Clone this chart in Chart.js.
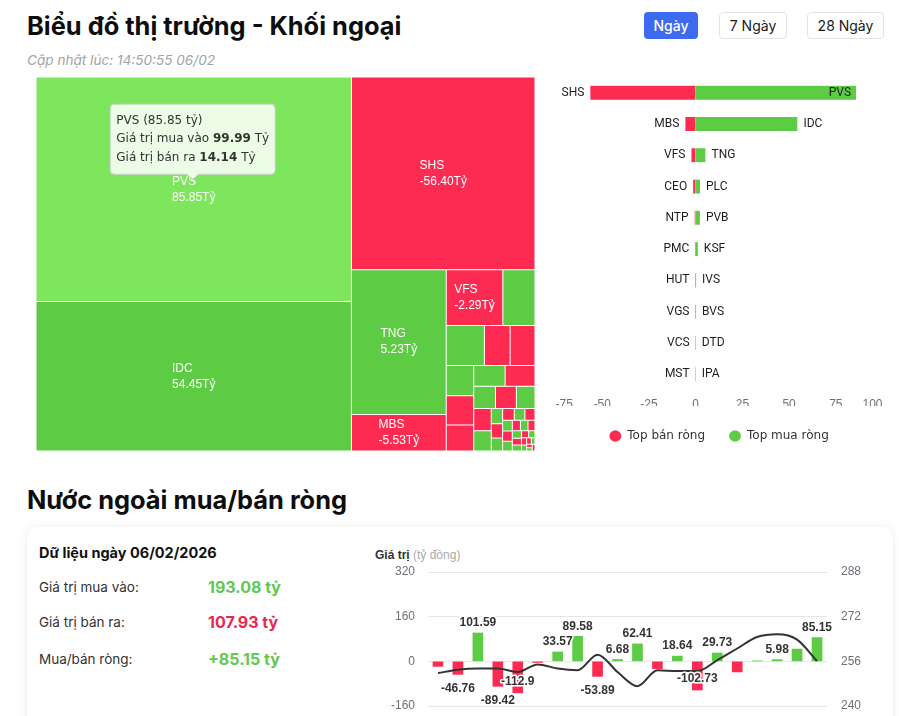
<!DOCTYPE html>
<html lang="vi">
<head>
<meta charset="utf-8">
<title>Biểu đồ thị trường - Khối ngoại</title>
<script src="https://cdn.jsdelivr.net/npm/chart.js@4.4.1/dist/chart.umd.min.js"></script>
<style>
  html, body { margin:0; padding:0; background:#fff; }
  body { width:899px; height:716px; overflow:hidden; position:relative; font-family: Inter, "Noto Sans", sans-serif; color:#111; }
  .abs { position:absolute; }
  .title { left:27px; margin:0; font-size:25.4px; font-weight:700; line-height:32px; color:#0d0d0d; white-space:nowrap; }
  .sub { left:27px; top:51px; font-size:13.6px; font-style:italic; color:#a3a3a3; line-height:18px; white-space:nowrap; }
  .btn { top:12px; height:27px; line-height:27px; font-size:14px; text-align:center; border-radius:4px; box-sizing:border-box; }
  .btn.on { background:#3d6aee; color:#fff; font-weight:500; }
  .btn.off { background:#fff; color:#1a1a1a; border:1px solid #e3e3e3; line-height:25px; }
  .card { left:27px; top:527px; width:866px; height:240px; border-radius:10px; background:#fff; box-shadow:0 0 10px rgba(0,0,0,0.08); }
  .lbl { left:39px; font-size:13.5px; color:#333; line-height:16px; white-space:nowrap; }
  .val { left:208px; font-size:16px; font-weight:700; line-height:20px; white-space:nowrap; }
  .axt { left:375px; top:547px; font-family:"Liberation Sans", Arial, sans-serif; font-size:12px; line-height:16px; white-space:nowrap; }
</style>
</head>
<body>
<div class="abs title" style="top:10px">Biểu đồ thị trường - Khối ngoại</div>
<div class="abs sub">Cập nhật lúc: 14:50:55 06/02</div>
<div class="abs btn on" style="left:644px;width:54px">Ngày</div>
<div class="abs btn off" style="left:719px;width:68px">7 Ngày</div>
<div class="abs btn off" style="left:807px;width:77px">28 Ngày</div>

<div class="abs" style="left:36px;top:77px;width:499px;height:374px"><canvas id="tm"></canvas></div>
<div class="abs" style="left:545px;top:77px;width:350px;height:375px"><canvas id="hb"></canvas></div>

<div class="abs title" style="top:484px">Nước ngoài mua/bán ròng</div>
<div class="abs card"></div>
<div class="abs lbl" style="top:545px;font-weight:700;color:#111;font-size:14.5px">Dữ liệu ngày 06/02/2026</div>
<div class="abs lbl" style="top:579px">Giá trị mua vào:</div>
<div class="abs val" style="top:577px;color:#62c850">193.08 tỷ</div>
<div class="abs lbl" style="top:614px">Giá trị bán ra:</div>
<div class="abs val" style="top:612px;color:#e8294d">107.93 tỷ</div>
<div class="abs lbl" style="top:651px">Mua/bán ròng:</div>
<div class="abs val" style="top:649px;color:#62c850">+85.15 tỷ</div>
<div class="abs axt"><b style="color:#333">Giá trị</b> <span style="color:#aaa">(tỷ đồng)</span></div>
<div class="abs" style="left:360px;top:540px;width:533px;height:200px"><canvas id="flow"></canvas></div>

<script>
// ================= DATA =================
// Treemap: foreign buy / sell value per stock (tỷ đồng)
const tmNames = ['PVS','IDC','SHS','TNG','MBS','VFS','PLC','PVB','CEO','NTP','KSF','PMC','HUT','IVS','VGS','BVS','VCS','DTD','MST','IPA','L14','PVI','NVB','TVD','DL1','HLD','PVC','DHT','BAB','SLS','TIG','VC3','API','AMV','HHC','LAS','SCG','PSD','THD','DTK','VNR','EID','TMB','TVC'];
const tmBuy  = [99.99,65.23,0.30,13.67,0.03,1.41,2.60,2.35,0.15,0.50,1.25,0.55,0.50,0.60,0.44,0.45,0.35,0.36,0.30,0.30,0.15,0.12,0.13,0.10,0.11,0.09,0.09,0.07,0.08,0.06,0.07,0.05,0.06,0.04,0.05,0.03,0.04,0.02,0.03,0.02,0.03,0.01,0.02,0.01];
const tmSell = [14.14,10.78,56.70,8.44,5.56,3.70,0.30,0.10,1.50,1.10,0.10,0.75,0.65,0.45,0.56,0.33,0.40,0.31,0.33,0.27,0.13,0.14,0.11,0.12,0.09,0.10,0.08,0.09,0.07,0.08,0.06,0.07,0.05,0.06,0.04,0.05,0.03,0.04,0.02,0.03,0.01,0.02,0.01,0.02];
const hoverName = 'PVS';

// Top net sell / net buy
const sellNames  = ['SHS','MBS','VFS','CEO','NTP','PMC','HUT','VGS','VCS','MST'];
const sellValues = [-56.40,-5.53,-2.29,-1.35,-0.60,-0.20,-0.15,-0.12,-0.05,-0.03];
const buyNames   = ['PVS','IDC','TNG','PLC','PVB','KSF','IVS','BVS','DTD','IPA'];
const buyValues  = [85.85,54.45,5.23,2.30,2.25,1.15,0.15,0.12,0.05,0.03];
const hbarMin = -75, hbarMax = 100, hbarStep = 25;

// Net flow by day + index line
const flowDates = ['12/01','13/01','14/01','15/01','16/01','19/01','20/01','21/01','22/01','23/01','26/01','27/01','28/01','29/01','30/01','02/02','03/02','04/02','05/02','06/02'];
const flowNet   = [-18,-46.76,101.59,-89.42,-112.9,-4,33.57,89.58,-53.89,6.68,62.41,-26,18.64,-102.73,29.73,-38,1.5,5.98,44,85.15];
const flowIndex = [251.8,253.0,253.4,253.4,252.2,254.9,253.4,252.8,258.4,252.2,247.1,252.8,252.5,252.5,256.4,260.6,264.7,265.7,263.8,256.1];
const flowHiddenLabels = [0,5,11,15,16,18];

// ================= STYLE =================
const RED = '#fd2b52', GREEN = '#5dcc44', GREEN_HOVER = '#7de65d';
Chart.defaults.animation = false;
Chart.defaults.font.family = '"Liberation Sans", Arial, sans-serif';

const tmTotal = tmBuy.map((b, i) => b + tmSell[i]);
const tmNet = tmBuy.map((b, i) => b - tmSell[i]);

// ================= TREEMAP CONTROLLER =================
function squarify(sizes, x, y, w, h) {
  const total = sizes.reduce((a, b) => a + b, 0);
  const k = (w * h) / total;
  const items = sizes.map((s, i) => ({ i, a: s * k })).sort((p, q) => q.a - p.a);
  const out = new Array(sizes.length);
  const RELAX = 1.1;
  const worst = (row, sum, len) => {
    const t = sum / len; let m = 0;
    for (const it of row) { const l = it.a / t; m = Math.max(m, t / l, l / t); }
    return m;
  };
  let idx = 0;
  while (idx < items.length) {
    const len = Math.min(w, h);
    const row = [items[idx]]; let sum = items[idx].a; let cur = worst(row, sum, len); let j = idx + 1;
    while (j < items.length) {
      const s2 = sum + items[j].a;
      const wv = worst(row.concat(items[j]), s2, len);
      if (wv <= cur * RELAX) { row.push(items[j]); sum = s2; cur = wv; j++; } else break;
    }
    if (w >= h) {
      const cw = sum / h; let cy = y;
      row.forEach(it => { const ch = it.a / cw; out[it.i] = { x0: x, x1: x + cw, y0: cy, y1: cy + ch }; cy += ch; });
      x += cw; w -= cw;
    } else {
      const rh = sum / w; let cx = x;
      row.forEach(it => { const c = it.a / rh; out[it.i] = { x0: cx, x1: cx + c, y0: y, y1: y + rh }; cx += c; });
      y += rh; h -= rh;
    }
    idx = j;
  }
  return out;
}

class TreemapController extends Chart.DatasetController {
  update(mode) {
    const meta = this._cachedMeta;
    this.updateElements(meta.data, 0, meta.data.length, mode);
  }
  updateElements(elems, start, count, mode) {
    const meta = this._cachedMeta;
    const xs = meta.xScale, ys = meta.yScale;
    const sizes = this.getDataset().data.map(d => d.size);
    const cells = squarify(sizes, xs.min, ys.min, xs.max - xs.min, ys.max - ys.min);
    for (let i = start; i < start + count; i++) {
      const c = cells[i];
      const xa = xs.getPixelForValue(c.x0), xb = xs.getPixelForValue(c.x1);
      const ya = ys.getPixelForValue(c.y0), yb = ys.getPixelForValue(c.y1);
      const left = Math.min(xa, xb), right = Math.max(xa, xb);
      const top = Math.min(ya, yb), bottom = Math.max(ya, yb);
      Object.assign(elems[i], {
        x: (left + right) / 2, y: top, base: bottom, width: right - left, height: bottom - top,
        horizontal: false, inflateAmount: 0,
        borderSkipped: { top: false, right: false, bottom: false, left: false },
        options: this.resolveDataElementOptions(i, mode)
      });
    }
  }
}
TreemapController.id = 'treemapx';
TreemapController.defaults = { datasetElementType: false, dataElementType: 'bar' };
Chart.register(TreemapController);

const tmLabelPlugin = {
  id: 'tmLabels',
  afterDatasetsDraw(chart) {
    const ctx = chart.ctx; const meta = chart.getDatasetMeta(0);
    ctx.save();
    ctx.font = '12px "Liberation Sans", Arial, sans-serif';
    ctx.fillStyle = '#ffffff'; ctx.textBaseline = 'middle'; ctx.textAlign = 'left';
    meta.data.forEach((el, i) => {
      if (el.width < 48 || el.height < 30) return;
      const l1 = tmNames[i], l2 = tmNet[i].toFixed(2) + 'Tỷ';
      const bw = Math.max(ctx.measureText(l1).width, ctx.measureText(l2).width);
      const cx = el.x, cy = (el.y + el.base) / 2;
      ctx.fillText(l1, cx - bw / 2, cy - 8);
      ctx.fillText(l2, cx - bw / 2, cy + 8);
    });
    ctx.restore();
  }
};

const tmTipPlugin = {
  id: 'tmTip',
  afterDraw(chart) {
    const i = tmNames.indexOf(hoverName);
    if (i < 0) return;
    const el = chart.getDatasetMeta(0).data[i];
    const ctx = chart.ctx;
    const norm = '12px "DejaVu Sans", sans-serif', bold = 'bold 12px "DejaVu Sans", sans-serif';
    const lines = [
      [{ t: tmNames[i] + ' (' + tmNet[i].toFixed(2) + ' tỷ)' }],
      [{ t: 'Giá trị mua vào ' }, { t: tmBuy[i].toFixed(2), b: true }, { t: ' Tỷ' }],
      [{ t: 'Giá trị bán ra ' }, { t: tmSell[i].toFixed(2), b: true }, { t: ' Tỷ' }]
    ];
    ctx.save();
    let maxW = 0;
    lines.forEach(ln => { let w = 0; ln.forEach(p => { ctx.font = p.b ? bold : norm; p.w = ctx.measureText(p.t).width; w += p.w; }); maxW = Math.max(maxW, w); });
    const padX = 6, lineH = 18.5, boxW = maxW + padX * 2, boxH = 70;
    const tipX = el.x - 1, tipY = (el.y + el.base) / 2 - 10;
    const bottom = tipY - 5, top = bottom - boxH, left = tipX - boxW / 2, right = left + boxW, r = 4;
    ctx.beginPath();
    ctx.moveTo(left + r, top);
    ctx.lineTo(right - r, top); ctx.quadraticCurveTo(right, top, right, top + r);
    ctx.lineTo(right, bottom - r); ctx.quadraticCurveTo(right, bottom, right - r, bottom);
    ctx.lineTo(tipX + 6, bottom); ctx.lineTo(tipX, tipY); ctx.lineTo(tipX - 6, bottom);
    ctx.lineTo(left + r, bottom); ctx.quadraticCurveTo(left, bottom, left, bottom - r);
    ctx.lineTo(left, top + r); ctx.quadraticCurveTo(left, top, left + r, top);
    ctx.closePath();
    ctx.fillStyle = 'rgba(255,255,255,0.85)'; ctx.fill();
    ctx.strokeStyle = '#cfcfcf'; ctx.lineWidth = 1; ctx.stroke();
    ctx.fillStyle = '#333'; ctx.textBaseline = 'middle'; ctx.textAlign = 'left';
    lines.forEach((ln, k) => {
      let x = left + padX; const y = top + 16.5 + k * lineH;
      ln.forEach(p => { ctx.font = p.b ? bold : norm; ctx.fillText(p.t, x, y); x += p.w; });
    });
    ctx.restore();
  }
};

const TM_W = 499, TM_H = 374;
new Chart(document.getElementById('tm'), {
  type: 'treemapx',
  data: {
    datasets: [{
      data: tmNames.map((n, i) => ({ name: n, size: tmTotal[i] })),
      parsing: false,
      backgroundColor: tmNames.map((n, i) => n === hoverName ? GREEN_HOVER : (tmNet[i] >= 0 ? GREEN : RED)),
      borderColor: '#ffffff',
      borderWidth: 0.5
    }]
  },
  options: {
    responsive: true, maintainAspectRatio: false, animation: false, events: [],
    layout: { padding: 0 },
    scales: {
      x: { type: 'linear', min: 0, max: TM_W, display: false },
      y: { type: 'linear', min: 0, max: TM_H, reverse: true, display: false }
    },
    plugins: { legend: { display: false }, tooltip: { enabled: false } }
  },
  plugins: [tmLabelPlugin, tmTipPlugin]
});

// ================= HORIZONTAL BAR (top buy / sell) =================
const hbLabelPlugin = {
  id: 'hbLabels',
  afterDatasetsDraw(chart) {
    const ctx = chart.ctx, area = chart.chartArea;
    ctx.save();
    ctx.font = '12px Roboto, "Liberation Sans", sans-serif';
    ctx.fillStyle = '#1e1e1e'; ctx.textBaseline = 'middle';
    chart.getDatasetMeta(0).data.forEach((el, i) => {
      const left = Math.min(el.x, el.base);
      ctx.textAlign = 'right'; ctx.fillText(sellNames[i], left - 6, el.y);
    });
    chart.getDatasetMeta(1).data.forEach((el, i) => {
      const right = Math.max(el.x, el.base);
      const w = ctx.measureText(buyNames[i]).width;
      if (right + 6 + w > area.right) { ctx.textAlign = 'right'; ctx.fillText(buyNames[i], right - 5, el.y); }
      else { ctx.textAlign = 'left'; ctx.fillText(buyNames[i], right + 6, el.y); }
    });
    ctx.restore();
  }
};

new Chart(document.getElementById('hb'), {
  type: 'bar',
  data: {
    labels: sellNames.map((s, i) => s + ' / ' + buyNames[i]),
    datasets: [
      { label: 'Top bán ròng', data: sellValues, backgroundColor: RED, borderColor: '#fff',
        borderWidth: { top: 0, bottom: 0, left: 0, right: 0.5 }, borderSkipped: false, grouped: false, barThickness: 14 },
      { label: 'Top mua ròng', data: buyValues, backgroundColor: GREEN, borderColor: '#fff',
        borderWidth: { top: 0, bottom: 0, left: 0.5, right: 0 }, borderSkipped: false, grouped: false, barThickness: 14 }
    ]
  },
  options: {
    indexAxis: 'y', responsive: true, maintainAspectRatio: false, animation: false, events: [],
    layout: { padding: { left: 10.6, right: 12.5, top: 0, bottom: 0 } },
    scales: {
      x: {
        min: hbarMin, max: hbarMax,
        ticks: { stepSize: hbarStep, align: 'inner', padding: 7, color: '#6e7079', font: { size: 12 } },
        grid: { display: false, drawTicks: false }, border: { display: false },
        afterFit: s => { s.height = 16; }
      },
      y: { display: false }
    },
    plugins: {
      legend: {
        position: 'bottom',
        labels: { usePointStyle: true, pointStyle: 'circle', pointStyleWidth: 12, boxHeight: 8, padding: 24,
          color: '#333', font: { family: '"DejaVu Sans", sans-serif', size: 12 } }
      },
      tooltip: { enabled: false }
    }
  },
  plugins: [hbLabelPlugin]
});

// ================= NET FLOW (bar + line) =================
const flowLabelPlugin = {
  id: 'flowLabels',
  afterDatasetsDraw(chart) {
    const ctx = chart.ctx, area = chart.chartArea;
    ctx.save();
    ctx.font = 'bold 12px "Liberation Sans", Arial, sans-serif';
    ctx.textAlign = 'center'; ctx.textBaseline = 'middle';
    ctx.lineWidth = 3; ctx.lineJoin = 'round'; ctx.strokeStyle = '#fff'; ctx.fillStyle = '#333';
    chart.getDatasetMeta(0).data.forEach((el, i) => {
      if (flowHiddenLabels.includes(i)) return;
      const v = flowNet[i];
      let y;
      if (v >= 0) y = el.y - 10;
      else { y = el.y + 14; if (y > area.bottom - 5) y = el.y - 11; }
      const t = String(v);
      ctx.strokeText(t, el.x, y);
      ctx.fillText(t, el.x, y);
    });
    ctx.restore();
  }
};

new Chart(document.getElementById('flow'), {
  type: 'bar',
  data: {
    labels: flowDates,
    datasets: [
      { type: 'bar', label: 'Mua/bán ròng', data: flowNet, yAxisID: 'y', order: 1, barThickness: 10,
        backgroundColor: ctx => (flowNet[ctx.dataIndex] >= 0 ? GREEN : RED) },
      { type: 'line', label: 'Chỉ số', data: flowIndex, yAxisID: 'y1', order: 0, borderColor: '#333',
        borderWidth: 2, cubicInterpolationMode: 'monotone', pointRadius: 0, fill: false }
    ]
  },
  options: {
    responsive: true, maintainAspectRatio: false, animation: false, events: [],
    layout: { padding: { top: 32, bottom: 0, left: 0, right: 0 } },
    scales: {
      x: { grid: { display: false, drawTicks: false }, border: { display: false },
        ticks: { padding: 16, color: '#6e7079', font: { size: 12 } }, afterFit: s => { s.height = 34; } },
      y: { position: 'left', min: -160, max: 320, ticks: { stepSize: 160, padding: 13, color: '#6e7079', font: { size: 12 } },
        grid: { color: '#e3e6ec', drawTicks: false }, border: { display: false }, afterFit: s => { s.width = 68; } },
      y1: { position: 'right', min: 240, max: 288, ticks: { stepSize: 16, padding: 14, color: '#6e7079', font: { size: 12 } },
        grid: { drawOnChartArea: false, drawTicks: false }, border: { display: false }, afterFit: s => { s.width = 66; } }
    },
    plugins: { legend: { display: false }, tooltip: { enabled: false } }
  },
  plugins: [flowLabelPlugin]
});
</script>
</body>
</html>
